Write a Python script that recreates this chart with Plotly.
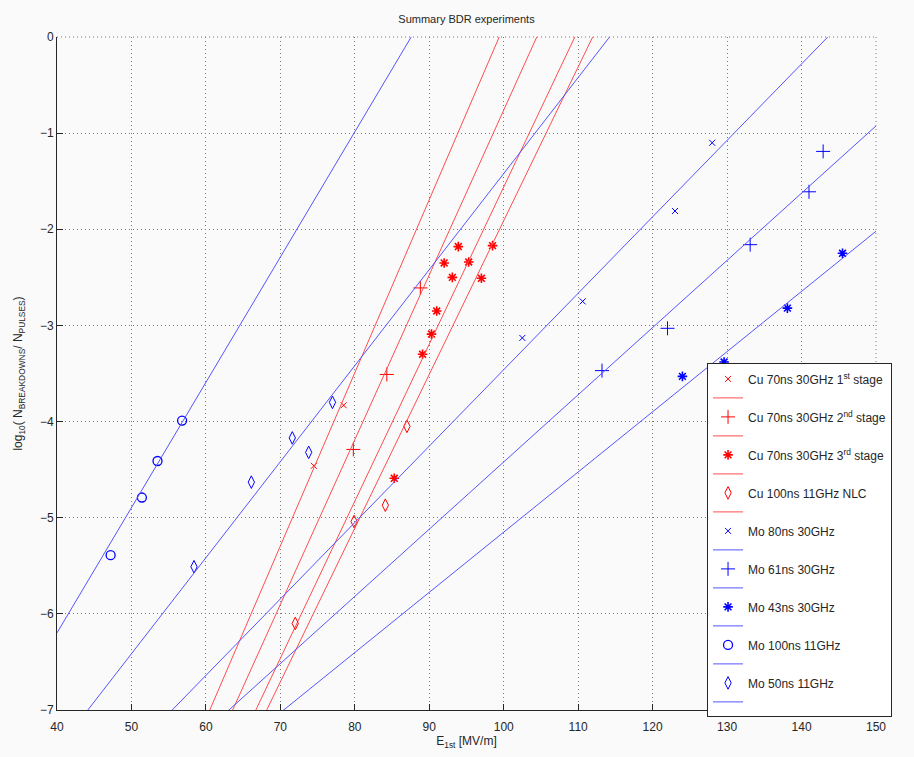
import numpy as np
import plotly.graph_objects as go

# Field range used to draw the fitted lines (clipped by the axes)
e_span = [40, 150]

# Measured breakdown rates: E_1st [MV/m] vs log10(N_breakdowns / N_pulses)
cu1_e = [74.5, 78.5]
cu1_log = [-4.46, -3.83]

cu2_e = [79.8, 84.3, 88.8]
cu2_log = [-4.29, -3.51, -2.61]

cu3_e = [85.3, 89.1, 90.3, 91.0, 92.0, 93.1, 93.9, 95.3, 97.0, 98.5]
cu3_log = [-4.59, -3.30, -3.09, -2.85, -2.35, -2.50, -2.18, -2.34, -2.51, -2.17]

cunlc_e = [72.0, 79.9, 84.1, 87.0]
cunlc_log = [-6.10, -5.04, -4.87, -4.05]

mo80_e = [102.5, 110.6, 123.0, 128.0]
mo80_log = [-3.13, -2.75, -1.81, -1.10]

mo61_e = [113.2, 122.0, 133.1, 141.0, 142.9]
mo61_log = [-3.47, -3.03, -2.16, -1.61, -1.19]

mo43_e = [124.0, 129.6, 138.1, 145.5]
mo43_log = [-3.53, -3.38, -2.82, -2.25]

mo100_e = [47.2, 51.4, 53.5, 56.8]
mo100_log = [-5.39, -4.79, -4.41, -3.99]

mo50_e = [58.4, 66.1, 71.6, 73.8, 77.0]
mo50_log = [-5.51, -4.63, -4.17, -4.32, -3.80]

# Linear fits log10(BDR) = slope * E + offset
fit_slope = [0.1801, 0.1714, 0.1634, 0.1599, 0.0795, 0.0699, 0.0626, 0.1303, 0.0999]
fit_offset = [-17.9, -17.9, -17.9, -17.9, -11.41, -11.41, -11.41, -11.41, -11.41]

labels = [
    "Cu 70ns 30GHz 1<sup>st</sup> stage",
    "Cu 70ns 30GHz 2<sup>nd</sup> stage",
    "Cu 70ns 30GHz 3<sup>rd</sup> stage",
    "Cu 100ns 11GHz NLC",
    "Mo 80ns 30GHz",
    "Mo 61ns 30GHz",
    "Mo 43ns 30GHz",
    "Mo 100ns 11GHz",
    "Mo 50ns 11GHz",
]

xs = [cu1_e, cu2_e, cu3_e, cunlc_e, mo80_e, mo61_e, mo43_e, mo100_e, mo50_e]
ys = [cu1_log, cu2_log, cu3_log, cunlc_log, mo80_log, mo61_log, mo43_log, mo100_log, mo50_log]

RED = "#ff0000"
BLUE = "#0000ff"
RED_LINE = "#ff4d4d"
BLUE_LINE = "#5555ff"

colors = [RED] * 4 + [BLUE] * 5
line_colors = [RED_LINE] * 4 + [BLUE_LINE] * 5
symbols = ["x-thin-open", "cross-thin-open", "asterisk-open", "diamond-tall-open",
           "x-thin-open", "cross-thin-open", "asterisk-open", "circle-open", "diamond-tall-open"]
sizes = [6, 10, 8, 9, 6, 10, 8, 9, 9]
mwidth = [1, 1, 1.6, 1, 1, 1, 1.6, 1.3, 1]

fig = go.Figure()
for i in range(len(labels)):
    fig.add_trace(go.Scatter(
        x=xs[i], y=ys[i], mode="markers", name=labels[i],
        marker=dict(symbol=symbols[i], size=sizes[i], color=colors[i],
                    line=dict(color=colors[i], width=mwidth[i])),
        cliponaxis=False,
    ))
    ex = np.array(e_span, dtype=float)
    fig.add_trace(go.Scatter(
        x=ex, y=fit_slope[i] * ex + fit_offset[i], mode="lines", name=" ",
        line=dict(color=line_colors[i], width=1),
    ))

axis_font = dict(family="Liberation Sans, Arial, sans-serif", size=12, color="#262626")
GRID = "#7a7a7a"
DOTS = "1px,3px"

fig.update_layout(
    width=914, height=757,
    margin=dict(l=57, r=38, t=37, b=39),
    paper_bgcolor="#fafafa",
    plot_bgcolor="#fafafa",
    font=axis_font,
    title=dict(text="Summary BDR experiments", x=0.5, xref="paper", xanchor="center",
               y=1 - 19 / 757, yanchor="middle",
               font=dict(family="Liberation Sans, Arial, sans-serif", size=11, color="#262626")),
    showlegend=True,
    legend=dict(
        x=0.7937, y=0.515, xanchor="left", yanchor="top",
        bgcolor="#ffffff", bordercolor="#262626", borderwidth=1,
        font=dict(family="Liberation Sans, Arial, sans-serif", size=12, color="#262626"),
        itemwidth=30, tracegroupgap=0,
    ),
    # dotted grid lines along the top and right edges of the axes box
    shapes=[
        dict(type="line", xref="paper", yref="paper", x0=0, x1=1, y0=1, y1=1,
             line=dict(color=GRID, width=1, dash=DOTS), layer="below"),
        dict(type="line", xref="paper", yref="paper", x0=1, x1=1, y0=0, y1=1,
             line=dict(color=GRID, width=1, dash=DOTS), layer="below"),
    ],
)

fig.update_xaxes(
    range=[40, 150], dtick=10, tick0=40,
    showline=True, linecolor="#262626", linewidth=1, mirror=False,
    ticks="inside", ticklen=6, tickcolor="#262626",
    showgrid=True, gridcolor=GRID, griddash=DOTS, gridwidth=1,
    zeroline=False, ticklabelstandoff=6,
    title=dict(text="E<sub>1st</sub> [MV/m]", standoff=2, font=axis_font),
    tickfont=axis_font,
)
fig.update_yaxes(
    range=[-7, 0], dtick=1, tick0=-7,
    showline=True, linecolor="#262626", linewidth=1, mirror=False,
    ticks="inside", ticklen=6, tickcolor="#262626",
    showgrid=True, gridcolor=GRID, griddash=DOTS, gridwidth=1,
    zeroline=False,
    title=dict(text="log<sub>10</sub>( N<sub>BREAKDOWNS</sub>/ N<sub>PULSES</sub>)", standoff=14, font=axis_font),
    tickfont=axis_font,
)

fig.write_html("out.html")
